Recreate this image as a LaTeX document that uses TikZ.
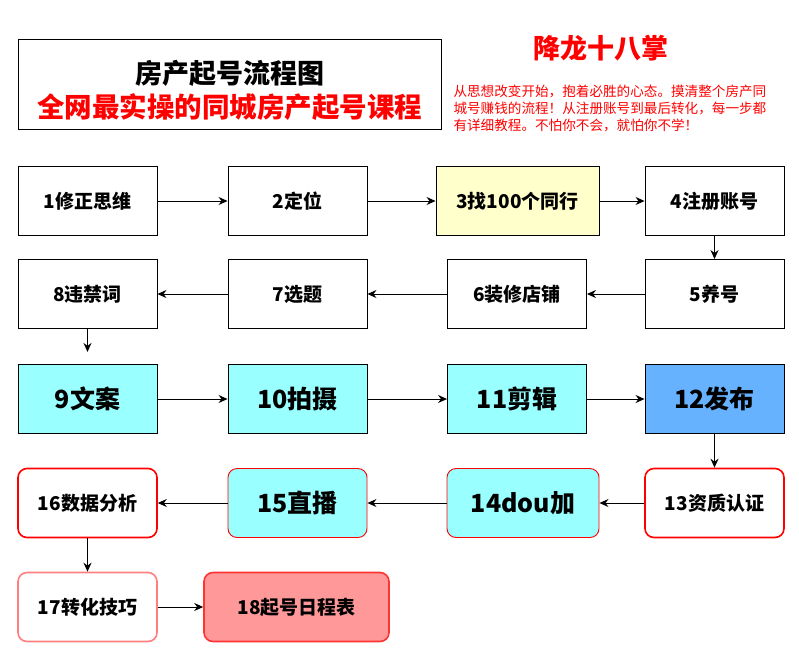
\documentclass[tikz,border=0pt]{standalone}
\usepackage{fontspec}
\setmainfont{Noto Sans CJK SC}
\usetikzlibrary{arrows.meta}
\definecolor{cyanbox}{HTML}{99FFFF}
\definecolor{bluebox}{HTML}{66B2FF}
\definecolor{yellowbox}{HTML}{FFFFCC}
\definecolor{pinkbox}{HTML}{FF9999}
\definecolor{redline}{HTML}{FF0000}
\definecolor{lightred}{HTML}{FF7F7F}
\tikzset{
  stage/.style={draw, line width=0.9pt, minimum width=139pt, minimum height=69pt, font=\bfseries\fontsize{19}{20}\selectfont, inner sep=0pt},
  bigstage/.style={stage, font=\bfseries\fontsize{25}{28}\selectfont},
  redstage/.style={stage, rounded corners=9pt, draw=redline, line width=1.6pt},
  link/.style={-{Stealth[length=9pt,width=8pt]}, line width=1pt}
}
\begin{document}
\begin{tikzpicture}[x=1pt,y=-1pt]
  \useasboundingbox (0,0) rectangle (799,656);

  % Titel
  \node[draw, line width=1pt, minimum width=423pt, minimum height=90pt] (title) at (229.5,84) {};
  \node[font=\bfseries\fontsize{27}{29}\selectfont] (titleA) at (229.5,73) {房产起号流程图};
  \node[font=\bfseries\fontsize{27.5}{30}\selectfont, text=redline] (titleB) at (229.5,107) {全网最实操的同城房产起号课程};
  \node[font=\bfseries\fontsize{27}{30}\selectfont, text=redline] (slogan) at (601,48) {降龙十八掌};
  \node[font=\fontsize{13.6}{17}\selectfont, text=redline, align=left, anchor=north west] (intro) at (450,81)
    {从思想改变开始，抱着必胜的心态。摸清整个房产同\\城号赚钱的流程！从注册账号到最后转化，每一步都\\有详细教程。不怕你不会，就怕你不学！};

  % Reihe 1
  \node[stage] (s1) at (87.5,201) {1修正思维};
  \node[stage] (s2) at (297.5,201) {2定位};
  \node[stage, fill=yellowbox, minimum width=163pt] (s3) at (517.5,201) {3找100个同行};
  \node[stage] (s4) at (714.5,201) {4注册账号};
  % Reihe 2
  \node[stage] (s5) at (714.5,294) {5养号};
  \node[stage] (s6) at (517,294) {6装修店铺};
  \node[stage] (s7) at (297.5,294) {7选题};
  \node[stage] (s8) at (87.5,294) {8违禁词};
  % Reihe 3
  \node[bigstage, fill=cyanbox] (s9) at (87.5,399) {9文案};
  \node[bigstage, fill=cyanbox] (s10) at (297.5,399) {10拍摄};
  \node[bigstage, fill=cyanbox] (s11) at (517,399) {11剪辑};
  \node[bigstage, fill=bluebox] (s12) at (714.5,399) {12发布};
  % Reihe 4
  \node[redstage] (s13) at (714.5,503) {13资质认证};
  \node[redstage, bigstage, fill=cyanbox, minimum width=152pt] (s14) at (523,503) {14dou加};
  \node[redstage, bigstage, fill=cyanbox] (s15) at (297.5,503) {15直播};
  \node[redstage] (s16) at (87.5,503) {16数据分析};
  % Reihe 5
  \node[redstage, draw=lightred] (s17) at (87.5,607) {17转化技巧};
  \node[redstage, draw=redline!80, fill=pinkbox, minimum width=185pt] (s18) at (296.5,607) {18起号日程表};

  \draw[link] (s1) -- (s2);
  \draw[link] (s2) -- (s3);
  \draw[link] (s3) -- (s4);
  \draw[link] (s4) -- (s5);
  \draw[link] (s5) -- (s6);
  \draw[link] (s6) -- (s7);
  \draw[link] (s7) -- (s8);
  \draw[link] (s8.south) -- ++(0,23);
  \draw[link] (s9) -- (s10);
  \draw[link] (s10) -- (s11);
  \draw[link] (s11) -- (s12);
  \draw[link] (s12) -- (s13);
  \draw[link] (s13) -- (s14);
  \draw[link] (s14) -- (s15);
  \draw[link] (s15) -- (s16);
  \draw[link] (s16) -- (s17);
  \draw[link] (s17) -- (s18);
\end{tikzpicture}
\end{document}
